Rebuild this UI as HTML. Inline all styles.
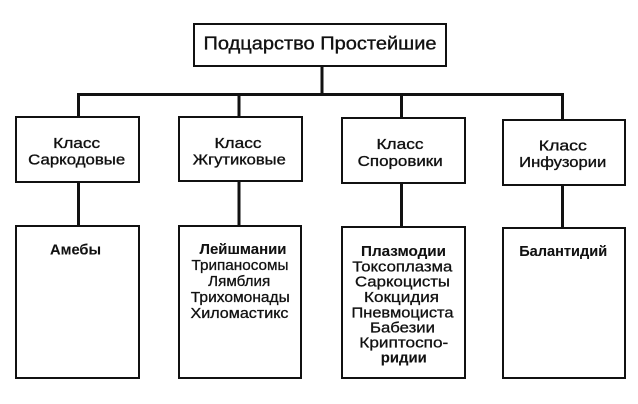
<!DOCTYPE html>
<html>
<head>
<meta charset="utf-8">
<style>
  html,body{margin:0;padding:0;background:#fff;}
  svg{display:block;}
  text{font-family:"Liberation Sans","DejaVu Sans",sans-serif;fill:#111;text-anchor:middle;}
  .t{font-size:18px;stroke:#111;stroke-width:0.35;}
  .c{font-size:15px;stroke:#111;stroke-width:0.35;}
  .l{font-size:15px;stroke:#111;stroke-width:0.3;}
  .b{font-weight:bold;stroke-width:0.1;}
</style>
</head>
<body>
<svg width="638" height="404" viewBox="0 0 638 404" xmlns="http://www.w3.org/2000/svg">
  <rect x="0" y="0" width="638" height="404" fill="#fff"/>
  <g fill="none" stroke="#111" stroke-width="2">
    <rect x="194" y="24" width="252" height="42"/>
    <rect x="16" y="117" width="123" height="65"/>
    <rect x="179" y="117" width="123" height="64"/>
    <rect x="342" y="118" width="123" height="65"/>
    <rect x="503" y="120" width="122" height="65"/>
    <rect x="16" y="226" width="123" height="152"/>
    <rect x="179" y="226" width="122" height="152"/>
    <rect x="342" y="227" width="123" height="151"/>
    <rect x="503" y="228" width="122" height="150"/>
  </g>
  <g stroke="#111" stroke-width="3" fill="none">
    <line x1="322" y1="67" x2="322" y2="95"/>
    <line x1="77" y1="94.5" x2="564" y2="94.5"/>
    <line x1="78.5" y1="94" x2="78.5" y2="116"/>
    <line x1="239" y1="94" x2="239" y2="116"/>
    <line x1="401.5" y1="94" x2="401.5" y2="117"/>
    <line x1="562.5" y1="94" x2="562.5" y2="119"/>
    <line x1="78.5" y1="183" x2="78.5" y2="225"/>
    <line x1="239" y1="182" x2="239" y2="225"/>
    <line x1="401.5" y1="184" x2="401.5" y2="226"/>
    <line x1="562.5" y1="186" x2="562.5" y2="227"/>
  </g>

  <text class="t" x="320" y="49.5" textLength="233" lengthAdjust="spacingAndGlyphs">Подцарство Простейшие</text>

  <text class="c" x="76.7" y="148" textLength="47" lengthAdjust="spacingAndGlyphs">Класс</text>
  <text class="c" x="76.7" y="164.5" textLength="97" lengthAdjust="spacingAndGlyphs">Саркодовые</text>

  <text class="c" x="238" y="148" textLength="47" lengthAdjust="spacingAndGlyphs">Класс</text>
  <text class="c" x="239.3" y="164.5" textLength="93" lengthAdjust="spacingAndGlyphs">Жгутиковые</text>

  <text class="c" x="400" y="149" textLength="47" lengthAdjust="spacingAndGlyphs">Класс</text>
  <text class="c" x="400.2" y="166" textLength="85" lengthAdjust="spacingAndGlyphs">Споровики</text>

  <text class="c" x="562.8" y="150.5" textLength="48" lengthAdjust="spacingAndGlyphs">Класс</text>
  <text class="c" x="562.7" y="167" textLength="87" lengthAdjust="spacingAndGlyphs">Инфузории</text>

  <text class="l b" x="75.5" y="254.5" textLength="51" lengthAdjust="spacingAndGlyphs">Амебы</text>

  <text class="l b" x="243" y="254" textLength="87" lengthAdjust="spacingAndGlyphs">Лейшмании</text>
  <text class="l" x="240" y="270" textLength="97" lengthAdjust="spacingAndGlyphs">Трипаносомы</text>
  <text class="l" x="239.2" y="286" textLength="62" lengthAdjust="spacingAndGlyphs">Лямблия</text>
  <text class="l" x="240.3" y="302" textLength="99" lengthAdjust="spacingAndGlyphs">Трихомонады</text>
  <text class="l" x="239.5" y="318" textLength="98" lengthAdjust="spacingAndGlyphs">Хиломастикс</text>

  <text class="l b" x="403.5" y="256" textLength="85" lengthAdjust="spacingAndGlyphs">Плазмодии</text>
  <text class="l" x="402.3" y="271.5" textLength="100" lengthAdjust="spacingAndGlyphs">Токсоплазма</text>
  <text class="l" x="402.5" y="286.5" textLength="95" lengthAdjust="spacingAndGlyphs">Саркоцисты</text>
  <text class="l" x="401.5" y="302" textLength="75" lengthAdjust="spacingAndGlyphs">Кокцидия</text>
  <text class="l" x="402.5" y="317.3" textLength="102" lengthAdjust="spacingAndGlyphs">Пневмоциста</text>
  <text class="l" x="402.5" y="332.5" textLength="65" lengthAdjust="spacingAndGlyphs">Бабезии</text>
  <text class="l" x="403.8" y="347.5" textLength="89" lengthAdjust="spacingAndGlyphs">Криптоспо-</text>
  <text class="l b" x="403.8" y="362.5" textLength="46" lengthAdjust="spacingAndGlyphs">ридии</text>

  <text class="l b" x="563.2" y="256" textLength="88" lengthAdjust="spacingAndGlyphs">Балантидий</text>
</svg>
</body>
</html>
